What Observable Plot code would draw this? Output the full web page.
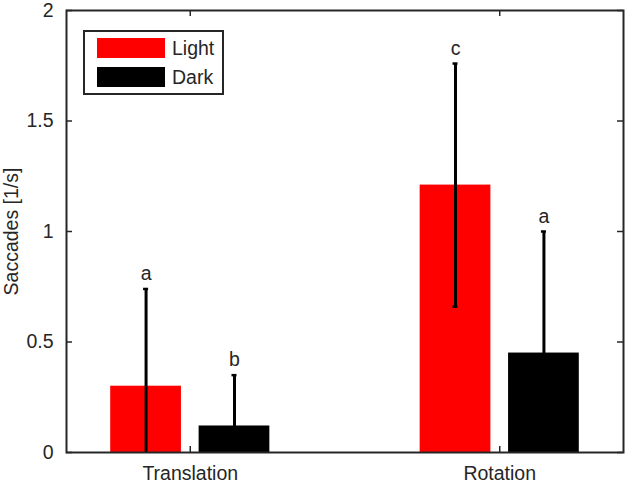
<!DOCTYPE html>
<html>
<head>
<meta charset="utf-8">
<script src="https://cdn.jsdelivr.net/npm/d3@7"></script>
<script src="https://cdn.jsdelivr.net/npm/@observablehq/plot@0.6"></script>
<style>
  html, body { margin: 0; padding: 0; background: #fff; }
  #wrap { position: relative; width: 630px; height: 485px; font-family: "Liberation Sans", Arial, sans-serif; }
  #legend { position: absolute; left: 83px; top: 30px; width: 137px; height: 61px; border: 2px solid #262626; background: #fff; }
  .row { position: absolute; left: 12px; height: 20px; display: flex; align-items: center; }
  .sw { width: 68px; height: 20px; }
  .lab { margin-left: 7px; font-size: 19.5px; color: #262626; line-height: 20px; }
</style>
</head>
<body>
<div id="wrap"><div id="legend"></div></div>
<script>
const categories = ["Translation", "Rotation"];
const series = ["Light", "Dark"];
const colors = ["#ff0000", "#000000"];
const lightMean = [0.30, 1.21];
const darkMean = [0.12, 0.45];
const lightErr = [0.44, 0.55];
const darkErr = [0.23, 0.55];
const lightLetter = ["a", "c"];
const darkLetter = ["b", "a"];
const yTicks = [0, 0.5, 1, 1.5, 2];
const yTickLabels = ["0", "0.5", "1", "1.5", "2"];

// MATLAB grouped-bar geometry
const nS = series.length;
const groupW = Math.min(0.8, nS / (nS + 1.5));
const barW = 0.8 * groupW / nS;
const offsets = series.map((_, j) => -groupW / 2 + groupW / nS * (j + 0.5));

const rows = [];
categories.forEach((c, i) => {
  [[lightMean, lightErr, lightLetter], [darkMean, darkErr, darkLetter]].forEach(([m, e, l], j) => {
    const xc = i + 1 + offsets[j];
    rows.push({cat: c, series: series[j], x: xc, x1: xc - barW / 2, x2: xc + barW / 2,
               y: m[i], lo: m[i] - e[i], hi: m[i] + e[i], letter: l[i]});
  });
});

const W = 630, H = 485, mL = 66, mR = 7, mT = 10, mB = 33;
const pw = W - mL - mR, ph = H - mT - mB;
const ink = "#262626";
const fs = 19.5;

const chart = Plot.plot({
  width: W, height: H,
  marginLeft: mL, marginRight: mR, marginTop: mT, marginBottom: mB,
  style: {fontFamily: "Liberation Sans, Arial, sans-serif", fontSize: fs + "px", color: ink, background: "#fff"},
  x: {type: "linear", domain: [0.6, 2.4]},
  y: {domain: [0, 2]},
  color: {domain: series, range: colors},
  marks: [
    Plot.rectY(rows, {x1: "x1", x2: "x2", y1: 0, y2: "y", fill: "series"}),
    Plot.ruleX(rows, {x: "x", y1: "lo", y2: "hi", stroke: "#000", strokeWidth: 3, clip: true}),
    Plot.ruleY(rows, {y: "hi", x1: "x", x2: "x", insetLeft: -2.5, insetRight: -2.5, stroke: "#000", strokeWidth: 2.5, clip: true}),
    Plot.ruleY(rows, {y: "lo", x1: "x", x2: "x", insetLeft: -2.5, insetRight: -2.5, stroke: "#000", strokeWidth: 2.5, clip: true}),
    Plot.text(rows, {x: "x", y: "hi", text: "letter", dy: -15, fill: ink, fontSize: fs}),
    // inward ticks
    Plot.tickY(yTicks, {y: d => d, insetRight: pw - 6, stroke: ink, strokeWidth: 1.5}),
    Plot.tickY(yTicks, {y: d => d, insetLeft: pw - 6, stroke: ink, strokeWidth: 1.5}),
    Plot.tickX([1, 2], {x: d => d, insetTop: ph - 6, stroke: ink, strokeWidth: 1.5}),
    Plot.tickX([1, 2], {x: d => d, insetBottom: ph - 6, stroke: ink, strokeWidth: 1.5}),
    Plot.axisY({ticks: yTicks, tickFormat: d => yTickLabels[yTicks.indexOf(d)], tickSize: 0, tickPadding: 13,
                label: "Saccades [1/s]", labelAnchor: "center", labelArrow: "none", labelOffset: 62, fontSize: fs, color: ink}),
    Plot.axisX({ticks: [1, 2], tickFormat: d => categories[d - 1], tickSize: 0, tickPadding: 14, label: null, fontSize: fs, color: ink}),
    Plot.frame({stroke: ink, strokeWidth: 2})
  ]
});
document.getElementById("wrap").prepend(chart);

const leg = document.getElementById("legend");
series.forEach((s, j) => {
  const r = document.createElement("div");
  r.className = "row";
  r.style.top = (6 + j * 29) + "px";
  r.innerHTML = `<div class="sw" style="background:${colors[j]}"></div><span class="lab">${s}</span>`;
  leg.appendChild(r);
});
</script>
</body>
</html>
